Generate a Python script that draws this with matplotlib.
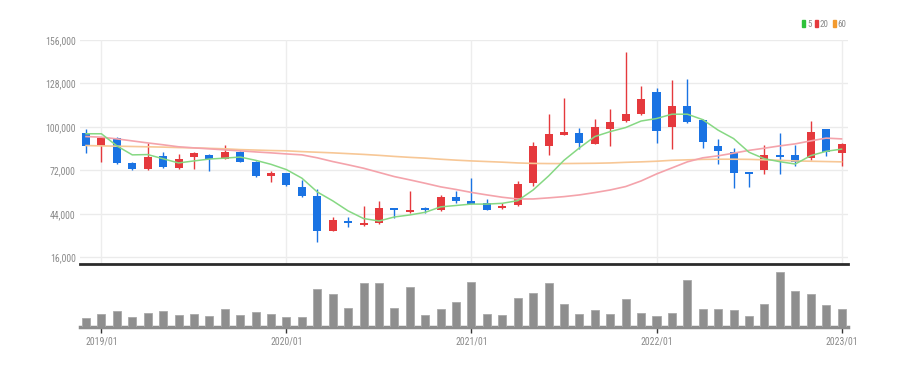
import numpy as np
import matplotlib
matplotlib.use("Agg")
from matplotlib import pyplot as plt
from matplotlib import font_manager
from matplotlib.patches import Patch

# 월봉 2018/12 ~ 2023/01
months = ['2018/12', '2019/01', '2019/02', '2019/03', '2019/04', '2019/05', '2019/06', '2019/07', '2019/08', '2019/09',
          '2019/10', '2019/11', '2019/12', '2020/01', '2020/02', '2020/03', '2020/04', '2020/05', '2020/06', '2020/07',
          '2020/08', '2020/09', '2020/10', '2020/11', '2020/12', '2021/01', '2021/02', '2021/03', '2021/04', '2021/05',
          '2021/06', '2021/07', '2021/08', '2021/09', '2021/10', '2021/11', '2021/12', '2022/01', '2022/02', '2022/03',
          '2022/04', '2022/05', '2022/06', '2022/07', '2022/08', '2022/09', '2022/10', '2022/11', '2022/12', '2023/01']

open_p = [96200, 88000, 92800, 76600, 73000, 81400, 73800, 80900, 82000, 79400,
          83700, 77700, 68600, 70200, 61200, 55600, 33200, 39400, 36800, 38300,
          47500, 45200, 48000, 46500, 54900, 52500, 50800, 47800, 49700, 64100,
          87400, 95100, 96400, 88900, 98800, 103700, 108500, 122500, 99900, 113800,
          104600, 88000, 83700, 70800, 72300, 82200, 81600, 79900, 98600, 83500]
high_p = [98600, 93600, 93800, 77300, 89600, 83700, 82500, 83700, 82500, 88500,
          84800, 78300, 71700, 70600, 65900, 60100, 41800, 41800, 49300, 52300,
          47800, 59000, 48300, 56200, 59000, 67000, 53600, 50800, 65400, 90200,
          108500, 118600, 99200, 105200, 111700, 148300, 126100, 125400, 130400, 131000,
          105000, 92300, 86300, 71000, 88500, 96000, 88500, 103900, 98900, 89400]
low_p = [83300, 77700, 76200, 72300, 72300, 73400, 73000, 72800, 71700, 79200,
         77500, 68000, 64400, 62000, 55100, 25700, 33000, 35400, 36500, 37500,
         41400, 44400, 44800, 46100, 50800, 50400, 46300, 47000, 49100, 62000,
         82000, 95100, 85700, 88800, 87800, 103100, 107800, 89900, 85700, 102500,
         86700, 76200, 60900, 61600, 69600, 69600, 74900, 78800, 81400, 74900]
close_p = [87800, 92800, 76600, 73000, 80900, 74100, 79200, 83100, 79200, 83700,
           77700, 68500, 70200, 62600, 55700, 33200, 40100, 37900, 37900, 47600,
           46500, 46500, 46500, 55100, 52500, 50600, 46500, 49300, 63300, 87400,
           95400, 96800, 89600, 99900, 103100, 108500, 118100, 97500, 113800, 103100,
           90600, 84800, 70200, 69700, 82000, 80900, 77700, 97000, 83700, 89100]

ma5 = [95600, 95600, 87800, 82000, 82200, 79500, 76800, 78100, 79300, 79900,
       80600, 78500, 75900, 72500, 67000, 58100, 52400, 45900, 41000, 39400,
       42000, 43300, 45000, 48500, 49400, 50300, 50300, 50800, 52500, 59400,
       68400, 78500, 86500, 93800, 97000, 99600, 103800, 105400, 108200, 108200,
       104700, 97900, 92500, 83700, 79500, 77600, 76100, 81500, 84300, 85700]
ma20 = [93800, 93400, 92300, 91000, 89700, 88500, 87200, 86500, 85900, 85200,
        84600, 83900, 83300, 82600, 82000, 80100, 77700, 75600, 73400, 70700,
        68000, 65900, 63700, 61400, 59700, 57800, 56200, 54700, 53600, 53600,
        54300, 55100, 56200, 57700, 59400, 61600, 65200, 69700, 73600, 77500,
        80100, 81400, 83100, 84900, 86300, 87800, 89100, 91000, 92800, 92300]
ma60 = [88000, 87800, 87600, 87400, 87200, 87000, 86700, 86500, 86200, 85900,
        85400, 85100, 84800, 84600, 84100, 83700, 83300, 82800, 82300, 81700,
        81000, 80400, 79900, 79200, 78600, 78100, 77700, 77300, 76800, 76500,
        76400, 76400, 76500, 76600, 76800, 77200, 77500, 77900, 78500, 78800,
        79100, 79200, 79200, 79100, 78800, 78500, 78100, 77900, 77700, 77500]

volume = [90, 127, 163, 97, 143, 163, 117, 127, 107, 177,
          117, 147, 127, 97, 97, 380, 333, 193, 443, 443,
          193, 400, 117, 180, 250, 447, 127, 117, 293, 343,
          443, 233, 127, 167, 133, 277, 143, 110, 143, 467,
          177, 177, 167, 110, 227, 547, 360, 327, 217, 180]

year_ticks = ['2019/01', '2020/01', '2021/01', '2022/01', '2023/01']
price_ticks = [16000, 44000, 72000, 100000, 128000, 156000]

RED = '#e5393d'
BLUE = '#1a73e3'
GRAY_TXT = '#8a8a8a'

# 좁은 글꼴이 있으면 사용
installed = {f.name for f in font_manager.fontManager.ttflist}
narrow = [f for f in ['Liberation Sans Narrow', 'Roboto Condensed', 'Open Sans Condensed'] if f in installed]
plt.rcParams['font.family'] = narrow + ['DejaVu Sans']
plt.rcParams['font.stretch'] = 'condensed'
LBL_SIZE = 7 if narrow else 6.5

x = np.arange(len(months))
o = np.array(open_p)
c = np.array(close_p)
up = c >= o
colors = np.where(up, RED, BLUE)
body_bottom = np.minimum(o, c)
body_height = np.maximum(np.abs(c - o), 900)

fig = plt.figure(figsize=(9.01, 3.67), dpi=100)
ax = fig.add_axes([80 / 901, 1 - 264 / 367, 768 / 901, 224 / 367])
axv = fig.add_axes([80 / 901, 1 - 327 / 367, 768 / 901, 61 / 367], sharex=ax)

tick_pos = [months.index(t) for t in year_ticks]

# 가격 차트
for p in price_ticks:
    ax.axhline(p, color='#ebebeb', lw=1, zorder=0)
for t in tick_pos:
    ax.axvline(t, color='#ededed', lw=1, zorder=0)

ax.vlines(x, low_p, high_p, colors=colors, lw=1, zorder=2)
ax.bar(x, body_height, 0.52, bottom=body_bottom, color=colors, zorder=3)

ax.plot(x, ma60, color='#f7c796', lw=1.2, zorder=4)
ax.plot(x, ma20, color='#f4a3ab', lw=1.2, zorder=4)
ax.plot(x, ma5, color='#86d883', lw=1.1, zorder=4)

ax.set_xlim(-0.39, 49.42)
ax.set_ylim(11700, 156000)
ax.set_yticks(price_ticks)
ax.set_yticklabels(['{:,}'.format(p) for p in price_ticks])
ax.tick_params(axis='y', length=0, labelsize=LBL_SIZE, labelcolor=GRAY_TXT, pad=3)
ax.tick_params(axis='x', length=0, labelbottom=False)
for s in ['top', 'right', 'left']:
    ax.spines[s].set_visible(False)
ax.spines['bottom'].set_color('#2b2b2b')
ax.spines['bottom'].set_linewidth(2)

# 거래량
axv.bar(x, volume, 0.52, color='#8e8e8e', edgecolor='#a9a9a9', lw=0.6, zorder=3)
axv.set_ylim(0, 610)
axv.set_yticks([])
for s in ['top', 'right', 'left']:
    axv.spines[s].set_visible(False)
axv.spines['bottom'].set_color('#8c8c8c')
axv.spines['bottom'].set_linewidth(2.5)
axv.set_xticks(tick_pos)
axv.set_xticklabels(year_ticks)
axv.tick_params(axis='x', length=4, width=1, color='#333333', labelsize=LBL_SIZE,
                labelcolor=GRAY_TXT, pad=3)

# 범례
handles = [Patch(color='#2ec23a', label='5'), Patch(color=RED, label='20'),
           Patch(color='#f39a2e', label='60')]
fig.legend(handles=handles, loc='upper right', bbox_to_anchor=(850 / 901, 1 - 16 / 367),
           ncol=3, frameon=False, fontsize=LBL_SIZE - 0.5, handlelength=0.35, handleheight=0.9,
           handletextpad=0.2, columnspacing=0.4, borderaxespad=0, labelcolor=GRAY_TXT)

fig.savefig('out.png', dpi=100)
